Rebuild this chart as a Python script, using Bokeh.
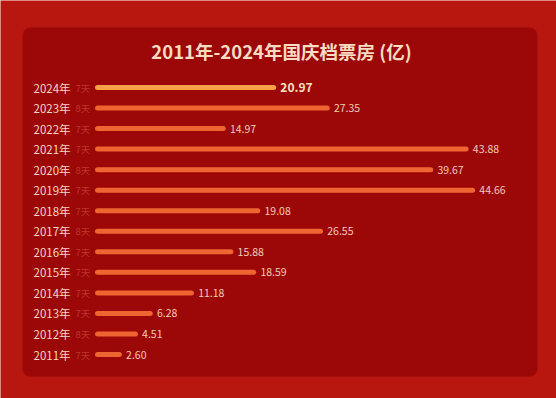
from bokeh.plotting import figure
from bokeh.models import Range1d, ColumnDataSource, BoxAnnotation, Label
from bokeh.core.properties import value
from bokeh.embed import file_html
from bokeh.resources import INLINE

years = [2024, 2023, 2022, 2021, 2020, 2019, 2018, 2017, 2016, 2015, 2014, 2013, 2012, 2011]
year_labels = [f"{y}年" for y in years]
box_office = [20.97, 27.35, 14.97, 43.88, 39.67, 44.66, 19.08, 26.55, 15.88, 18.59, 11.18, 6.28, 4.51, 2.60]
value_labels = ["20.97", "27.35", "14.97", "43.88", "39.67", "44.66", "19.08", "26.55", "15.88", "18.59", "11.18", "6.28", "4.51", "2.60"]
days_labels = ["7天", "8天", "7天", "7天", "8天", "7天", "7天", "8天", "7天", "7天", "7天", "7天", "8天", "7天"]
title_text = "2011年-2024年国庆档票房 (亿)"

W, H = 556, 398
PX_PER_UNIT = 8.4
X0_PX = 97
x_left = -X0_PX / PX_PER_UNIT
x_right = (W - X0_PX) / PX_PER_UNIT
ROW_PX = 20.54
y_top = 2024 + 87 / ROW_PX
y_bottom = y_top - H / ROW_PX

FONT = "Noto Sans CJK SC"

p = figure(width=W, height=H, output_backend="svg", toolbar_location=None,
           x_range=Range1d(x_left, x_right), y_range=Range1d(y_bottom, y_top),
           min_border=0, outline_line_color=None)
p.axis.visible = False
p.grid.visible = False
p.background_fill_color = "#b8170f"
p.border_fill_color = "#b8170f"

def dx(px):
    return (px - X0_PX) / PX_PER_UNIT

def dy(px):
    return y_top - px / ROW_PX

panel = BoxAnnotation(left=dx(22), right=dx(537), top=dy(27), bottom=dy(376),
                      fill_color="#9c0808", fill_alpha=1.0, line_color="#a8100c",
                      line_alpha=0.6, border_radius=8, level="underlay")
p.add_layout(panel)

colors = ["#f7a048"] + ["#ee6532"] * (len(years) - 1)
src = ColumnDataSource(dict(
    y=years, v=box_office, ylab=year_labels, vlab=value_labels, days=days_labels,
    zero=[0] * len(years), color=colors,
    vx=[v + 0.8 for v in box_office],
    vcolor=["#fbe2c0"] + ["#f2cbbb"] * (len(years) - 1),
    vsize=["12px"] + ["10.5px"] * (len(years) - 1),
    vstyle=["bold"] + ["normal"] * (len(years) - 1),
))

p.segment(x0="zero", y0="y", x1="v", y1="y", source=src, line_color="color",
          line_width=5, line_cap="round")

p.text(x=dx(33), y="y", text="ylab", source=src, text_font=value(FONT),
       text_font_size="11.5px", text_color="#f3d6c6", text_baseline="middle",
       text_align="left")
p.text(x=dx(75), y="y", text="days", source=src, text_font=value(FONT),
       text_font_size="9.5px", text_color="#bf342c", text_baseline="middle",
       text_align="left")
p.text(x="vx", y="y", text="vlab", source=src, text_font=value(FONT),
       text_font_size="vsize", text_font_style="vstyle", text_color="vcolor",
       text_baseline="middle", text_align="left")

title = Label(x=281, y=H - 50, x_units="screen", y_units="screen", text=title_text,
              text_font=FONT, text_font_size="18.5px", text_font_style="bold",
              text_color="#f6dcc2", text_align="center", text_baseline="middle")
p.add_layout(title)

open("out.html", "w").write(file_html(p, INLINE))
